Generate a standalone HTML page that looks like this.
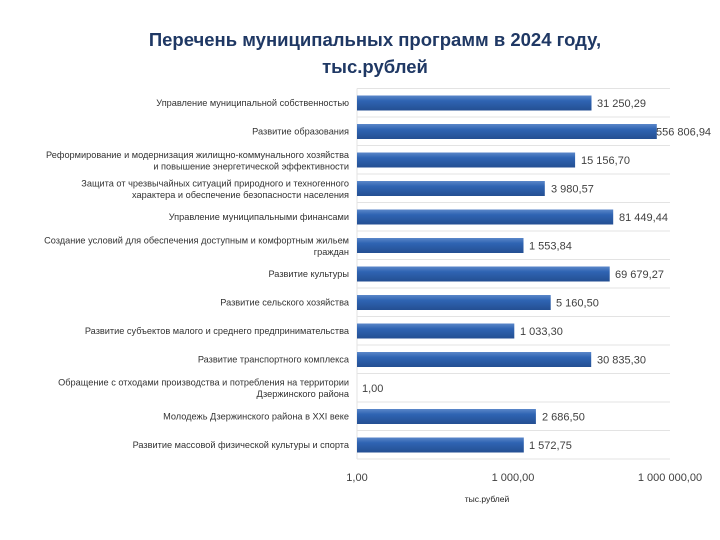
<!DOCTYPE html>
<html><head><meta charset="utf-8"><style>
html,body{margin:0;padding:0;background:#fff;}
svg{display:block;font-family:"Liberation Sans","DejaVu Sans",sans-serif;}
</style></head><body>
<svg width="720" height="540" viewBox="0 0 720 540" xmlns="http://www.w3.org/2000/svg">
<defs>
<linearGradient id="g" x1="0" y1="0" x2="0" y2="1">
<stop offset="0" stop-color="#5b87c9"/><stop offset="0.35" stop-color="#2f64b3"/><stop offset="1" stop-color="#244f92"/>
</linearGradient>
</defs>
<text x="375" y="46" text-anchor="middle" font-size="18.5" font-weight="bold" fill="#1f3864">Перечень муниципальных программ в 2024 году,</text>
<text x="375" y="73" text-anchor="middle" font-size="18.5" font-weight="bold" fill="#1f3864">тыс.рублей</text>
<g stroke="#e3e3e3" stroke-width="1">
<line x1="357" x2="670" y1="88.5" y2="88.5"/><line x1="357" x2="670" y1="117" y2="117"/><line x1="357" x2="670" y1="145.5" y2="145.5"/><line x1="357" x2="670" y1="174" y2="174"/><line x1="357" x2="670" y1="202.5" y2="202.5"/><line x1="357" x2="670" y1="231" y2="231"/><line x1="357" x2="670" y1="259.5" y2="259.5"/><line x1="357" x2="670" y1="288" y2="288"/><line x1="357" x2="670" y1="316.5" y2="316.5"/><line x1="357" x2="670" y1="345" y2="345"/><line x1="357" x2="670" y1="373.5" y2="373.5"/><line x1="357" x2="670" y1="402" y2="402"/><line x1="357" x2="670" y1="430.5" y2="430.5"/><line x1="357" x2="670" y1="459" y2="459"/>
<line x1="357" x2="357" y1="88.5" y2="459"/>
</g>
<g fill="url(#g)">
<rect x="357" y="95.5" width="234.5" height="15"/>
<rect x="357" y="124" width="299.8" height="15"/>
<rect x="357" y="152.5" width="218.1" height="15"/>
<rect x="357" y="181" width="187.8" height="15"/>
<rect x="357" y="209.5" width="256.2" height="15"/>
<rect x="357" y="238" width="166.5" height="15"/>
<rect x="357" y="266.5" width="252.7" height="15"/>
<rect x="357" y="295" width="193.7" height="15"/>
<rect x="357" y="323.5" width="157.3" height="15"/>
<rect x="357" y="352" width="234.2" height="15"/>
<rect x="357" y="409" width="178.9" height="15"/>
<rect x="357" y="437.5" width="166.8" height="15"/>
</g>
<g font-size="11" fill="#404040">
<text x="597" y="107">31 250,29</text>
<text x="656" y="135.5">556 806,94</text>
<text x="581" y="164">15 156,70</text>
<text x="551" y="192.5">3 980,57</text>
<text x="619" y="221">81 449,44</text>
<text x="529" y="249.5">1 553,84</text>
<text x="615" y="278">69 679,27</text>
<text x="556" y="306.5">5 160,50</text>
<text x="520" y="335">1 033,30</text>
<text x="597" y="363.5">30 835,30</text>
<text x="362" y="392">1,00</text>
<text x="542" y="420.5">2 686,50</text>
<text x="529" y="449">1 572,75</text>
</g>
<g font-size="9.2" fill="#333" text-anchor="end">
<text x="349" y="106">Управление муниципальной собственностью</text>
<text x="349" y="134.5">Развитие образования</text>
<text x="349" y="158">Реформирование и модернизация жилищно-коммунального хозяйства</text>
<text x="349" y="169.5">и повышение энергетической эффективности</text>
<text x="349" y="186.5">Защита от чрезвычайных ситуаций природного и техногенного</text>
<text x="349" y="198">характера и обеспечение безопасности населения</text>
<text x="349" y="220">Управление муниципальными финансами</text>
<text x="349" y="243.5">Создание условий для обеспечения доступным и комфортным жильем</text>
<text x="349" y="255">граждан</text>
<text x="349" y="277">Развитие культуры</text>
<text x="349" y="305.5">Развитие сельского хозяйства</text>
<text x="349" y="334">Развитие субъектов малого и среднего предпринимательства</text>
<text x="349" y="362.5">Развитие транспортного комплекса</text>
<text x="349" y="385.5">Обращение с отходами производства и потребления на территории</text>
<text x="349" y="397">Дзержинского района</text>
<text x="349" y="419.5">Молодежь Дзержинского района в XXI веке</text>
<text x="349" y="448">Развитие массовой физической культуры и спорта</text>
</g>
<g font-size="11" fill="#404040" text-anchor="middle">
<text x="357" y="481">1,00</text>
<text x="513" y="481">1 000,00</text>
<text x="670" y="481">1 000 000,00</text>
</g>
<text x="487" y="502" text-anchor="middle" font-size="8.5" fill="#222">тыс.рублей</text>
</svg>
</body></html>
